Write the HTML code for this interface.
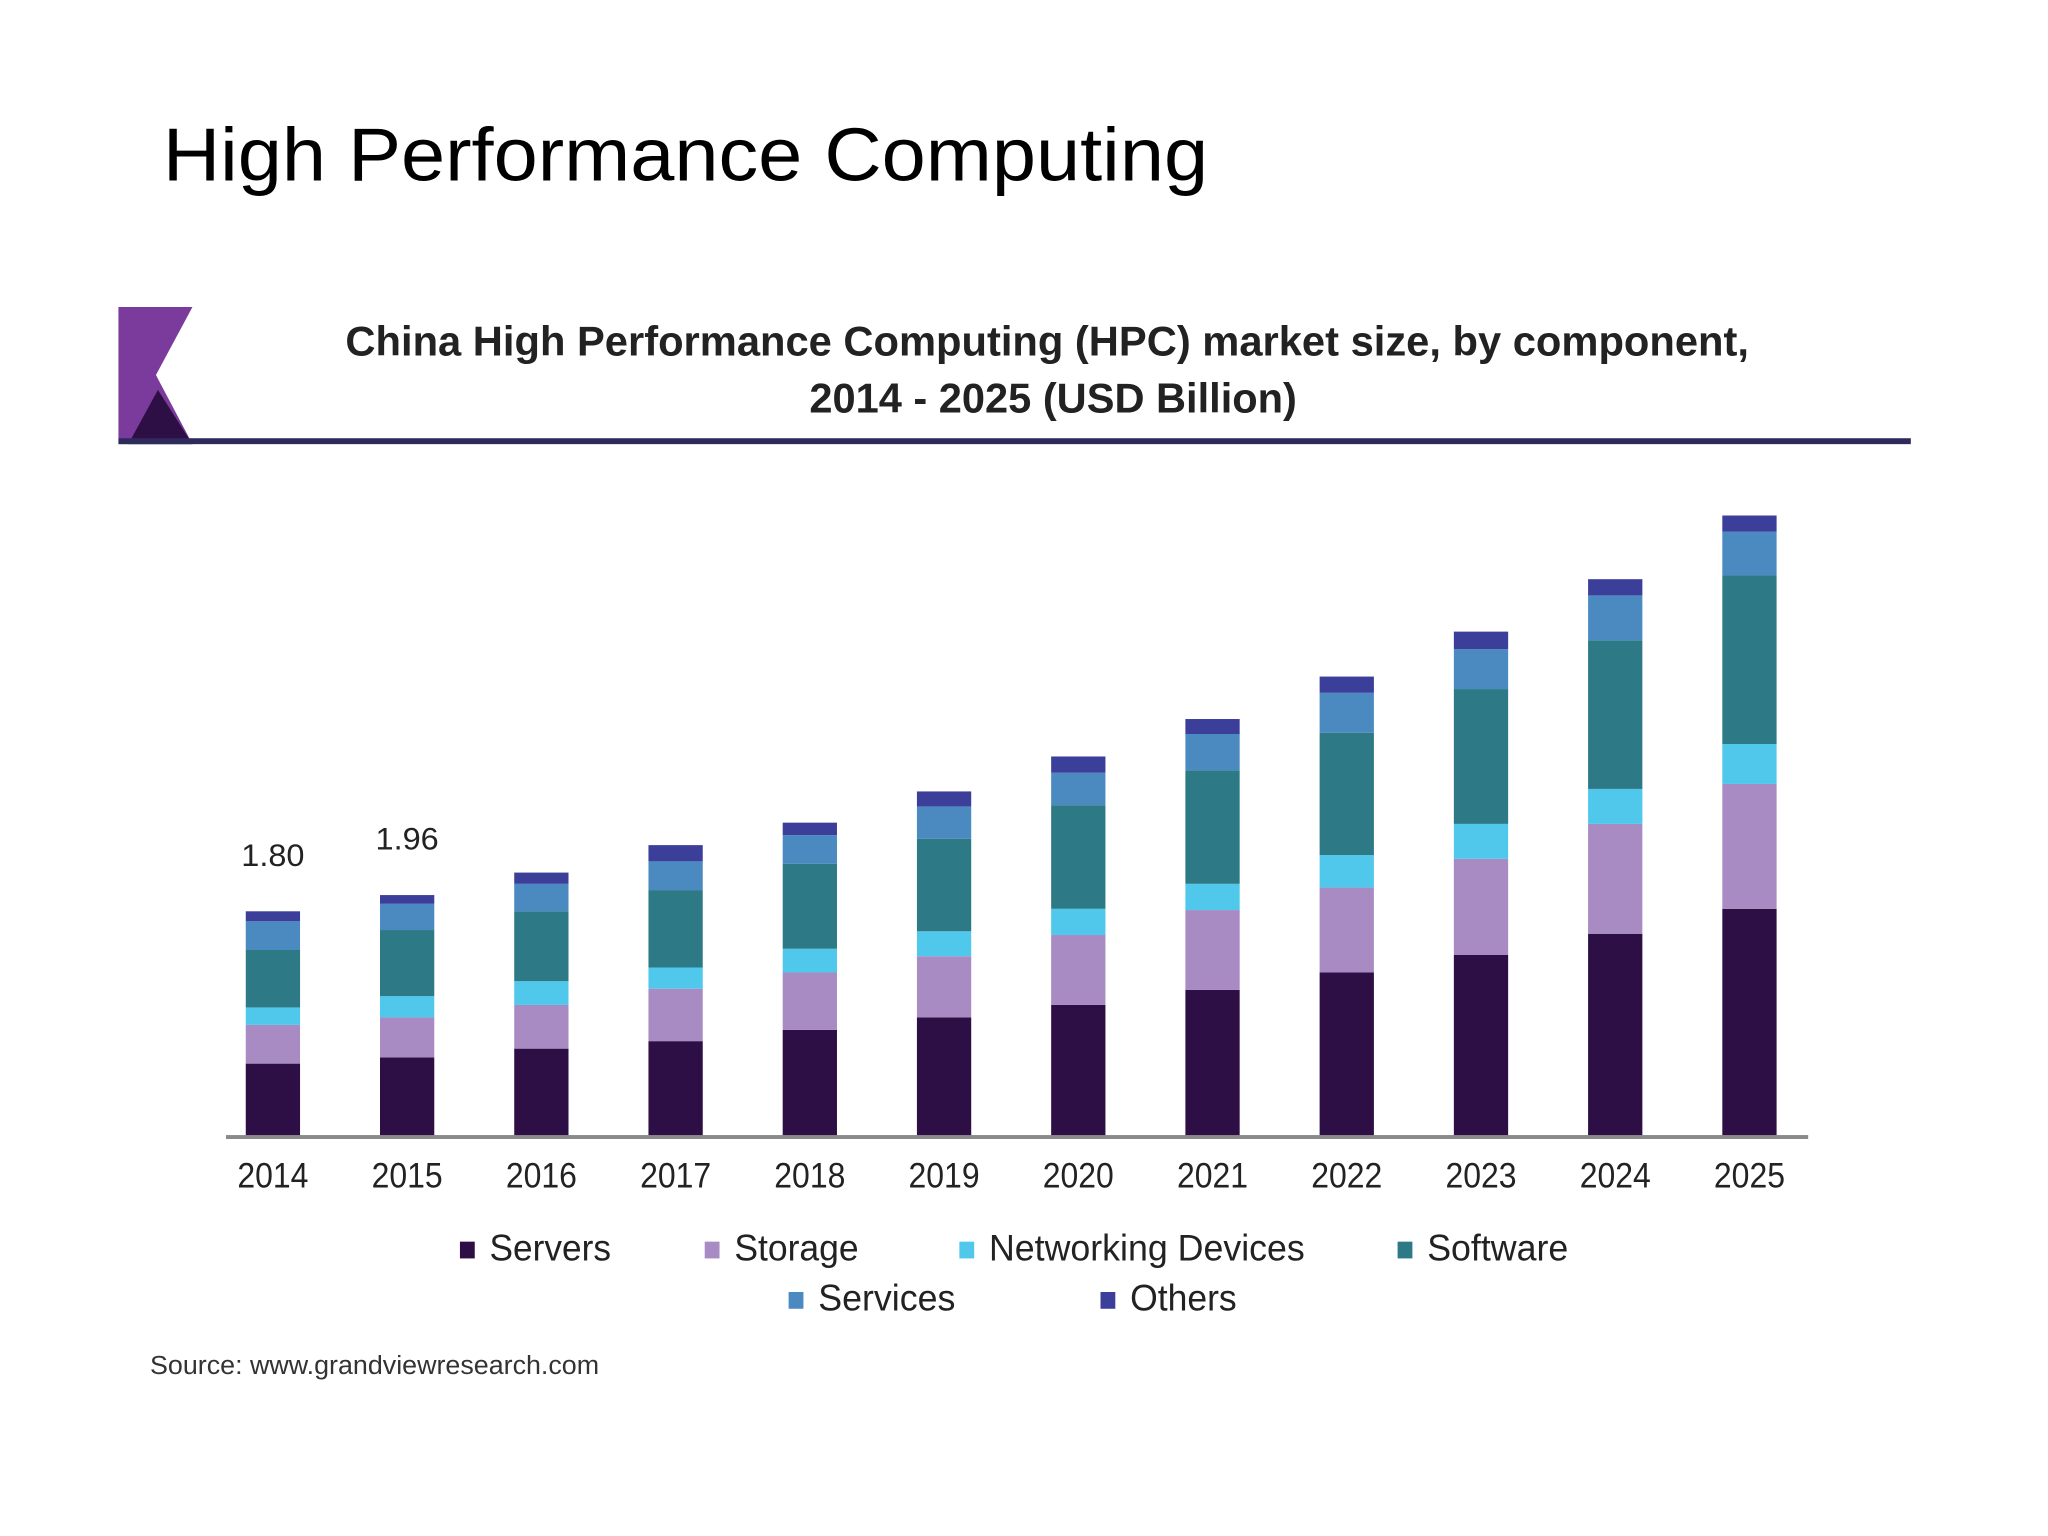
<!DOCTYPE html>
<html><head><meta charset="utf-8"><style>
html,body{margin:0;padding:0;background:#fff;}
svg{display:block;font-family:"Liberation Sans",sans-serif;}
</style></head><body>
<svg id="chart" width="2048" height="1536" viewBox="0 0 2048 1536">
<g transform="scale(0.987)">
<text x="165" y="183" font-size="76" fill="#000" textLength="1059" lengthAdjust="spacingAndGlyphs">High Performance Computing</text>
<polygon points="120,311 195,311 158,380 195,450 120,450" fill="#7a3b9c"/>
<polygon points="130,450 160,395 195,450" fill="#2e0f45"/>
<rect x="120" y="444" width="1816" height="6" fill="#2f2a5c"/>
<text x="1061" y="360" font-size="42" font-weight="bold" fill="#222" text-anchor="middle" textLength="1422" lengthAdjust="spacingAndGlyphs">China High Performance Computing (HPC) market size, by component,</text>
<text x="1067" y="418" font-size="42" font-weight="bold" fill="#222" text-anchor="middle" textLength="494" lengthAdjust="spacingAndGlyphs">2014 - 2025 (USD Billion)</text>
<g id="bars"></g>
<rect x="229" y="1150" width="1603" height="4" fill="#8a8a8a"/>
<g id="legend"></g>
<text x="152" y="1392" font-size="26" fill="#333" textLength="455" lengthAdjust="spacingAndGlyphs">Source: www.grandviewresearch.com</text>
</g>
</svg>
<script>
const years=["2014","2015","2016","2017","2018","2019","2020","2021","2022","2023","2024","2025"];
const servers=[0.58,0.63,0.70,0.76,0.85,0.95,1.05,1.17,1.31,1.45,1.62,1.82];
const storage=[0.31,0.32,0.35,0.42,0.46,0.49,0.56,0.64,0.68,0.77,0.88,1.00];
const networking=[0.14,0.17,0.19,0.17,0.19,0.20,0.21,0.21,0.26,0.28,0.28,0.32];
const software=[0.46,0.53,0.56,0.62,0.68,0.74,0.83,0.91,0.98,1.08,1.19,1.35];
const services=[0.23,0.21,0.22,0.23,0.23,0.26,0.26,0.29,0.32,0.32,0.36,0.35];
const others=[0.08,0.07,0.09,0.13,0.10,0.12,0.13,0.12,0.13,0.14,0.13,0.13];
const totalLabels=["1.80","1.96"];
const seriesNames=["Servers","Storage","Networking Devices","Software","Services","Others"];
const NS="http://www.w3.org/2000/svg";
const colors=["#2e0f45","#a98bc4","#4fc8ec","#2d7a86","#4a8ac0","#3b3f9a"];
const series=[servers,storage,networking,software,services,others];
const baseY=1151, pxPer=126.5, x0=276.5, step=136, bw=55;
const xc=i=>x0+i*step;
const yv=v=>baseY-v*pxPer;
const g=document.getElementById('bars');
years.forEach((yr,i)=>{
  let cum=0;
  series.forEach((s,k)=>{
    const r=document.createElementNS(NS,'rect');
    const top=yv(cum+s[i]);
    r.setAttribute('x',xc(i)-bw/2);r.setAttribute('y',top);
    r.setAttribute('width',bw);r.setAttribute('height',yv(cum)-top);
    r.setAttribute('fill',colors[k]);
    
    
    g.appendChild(r);cum+=s[i];
  });
  const t=document.createElementNS(NS,'text');
  t.setAttribute('x',xc(i));t.setAttribute('y',1203);t.setAttribute('font-size','36');
  t.setAttribute('text-anchor','middle');t.setAttribute('fill','#222');
  t.setAttribute('textLength','72');t.setAttribute('lengthAdjust','spacingAndGlyphs');
  t.textContent=yr;
  
  
  g.appendChild(t);
  if(i<totalLabels.length){
    let tot=0;series.forEach(s=>tot+=s[i]);
    const l=document.createElementNS(NS,'text');
    l.setAttribute('x',xc(i));l.setAttribute('y',yv(tot)-46);l.setAttribute('font-size','32');
    l.setAttribute('text-anchor','middle');l.setAttribute('fill','#222');
    l.setAttribute('textLength','64');l.setAttribute('lengthAdjust','spacingAndGlyphs');
    l.textContent=totalLabels[i];
    
    
    g.appendChild(l);
  }
});
const legPos=[[466,1275,123],[714,1275,126],[972,1275,320],[1416,1275,143],[799,1326,139],[1115,1326,108]];
const lg=document.getElementById('legend');
seriesNames.forEach((n,k)=>{
  const [sx,sy,tl]=legPos[k];
  const r=document.createElementNS(NS,'rect');
  r.setAttribute('x',sx);r.setAttribute('y',sy-17);r.setAttribute('width',15);r.setAttribute('height',17);
  r.setAttribute('fill',colors[k]);
  
  
  lg.appendChild(r);
  const t=document.createElementNS(NS,'text');
  t.setAttribute('x',sx+30);t.setAttribute('y',sy+2);t.setAttribute('font-size','38');t.setAttribute('fill','#222');
  t.setAttribute('textLength',tl);t.setAttribute('lengthAdjust','spacingAndGlyphs');
  t.textContent=n;
  
  
  lg.appendChild(t);
});
</script>
</body></html>
